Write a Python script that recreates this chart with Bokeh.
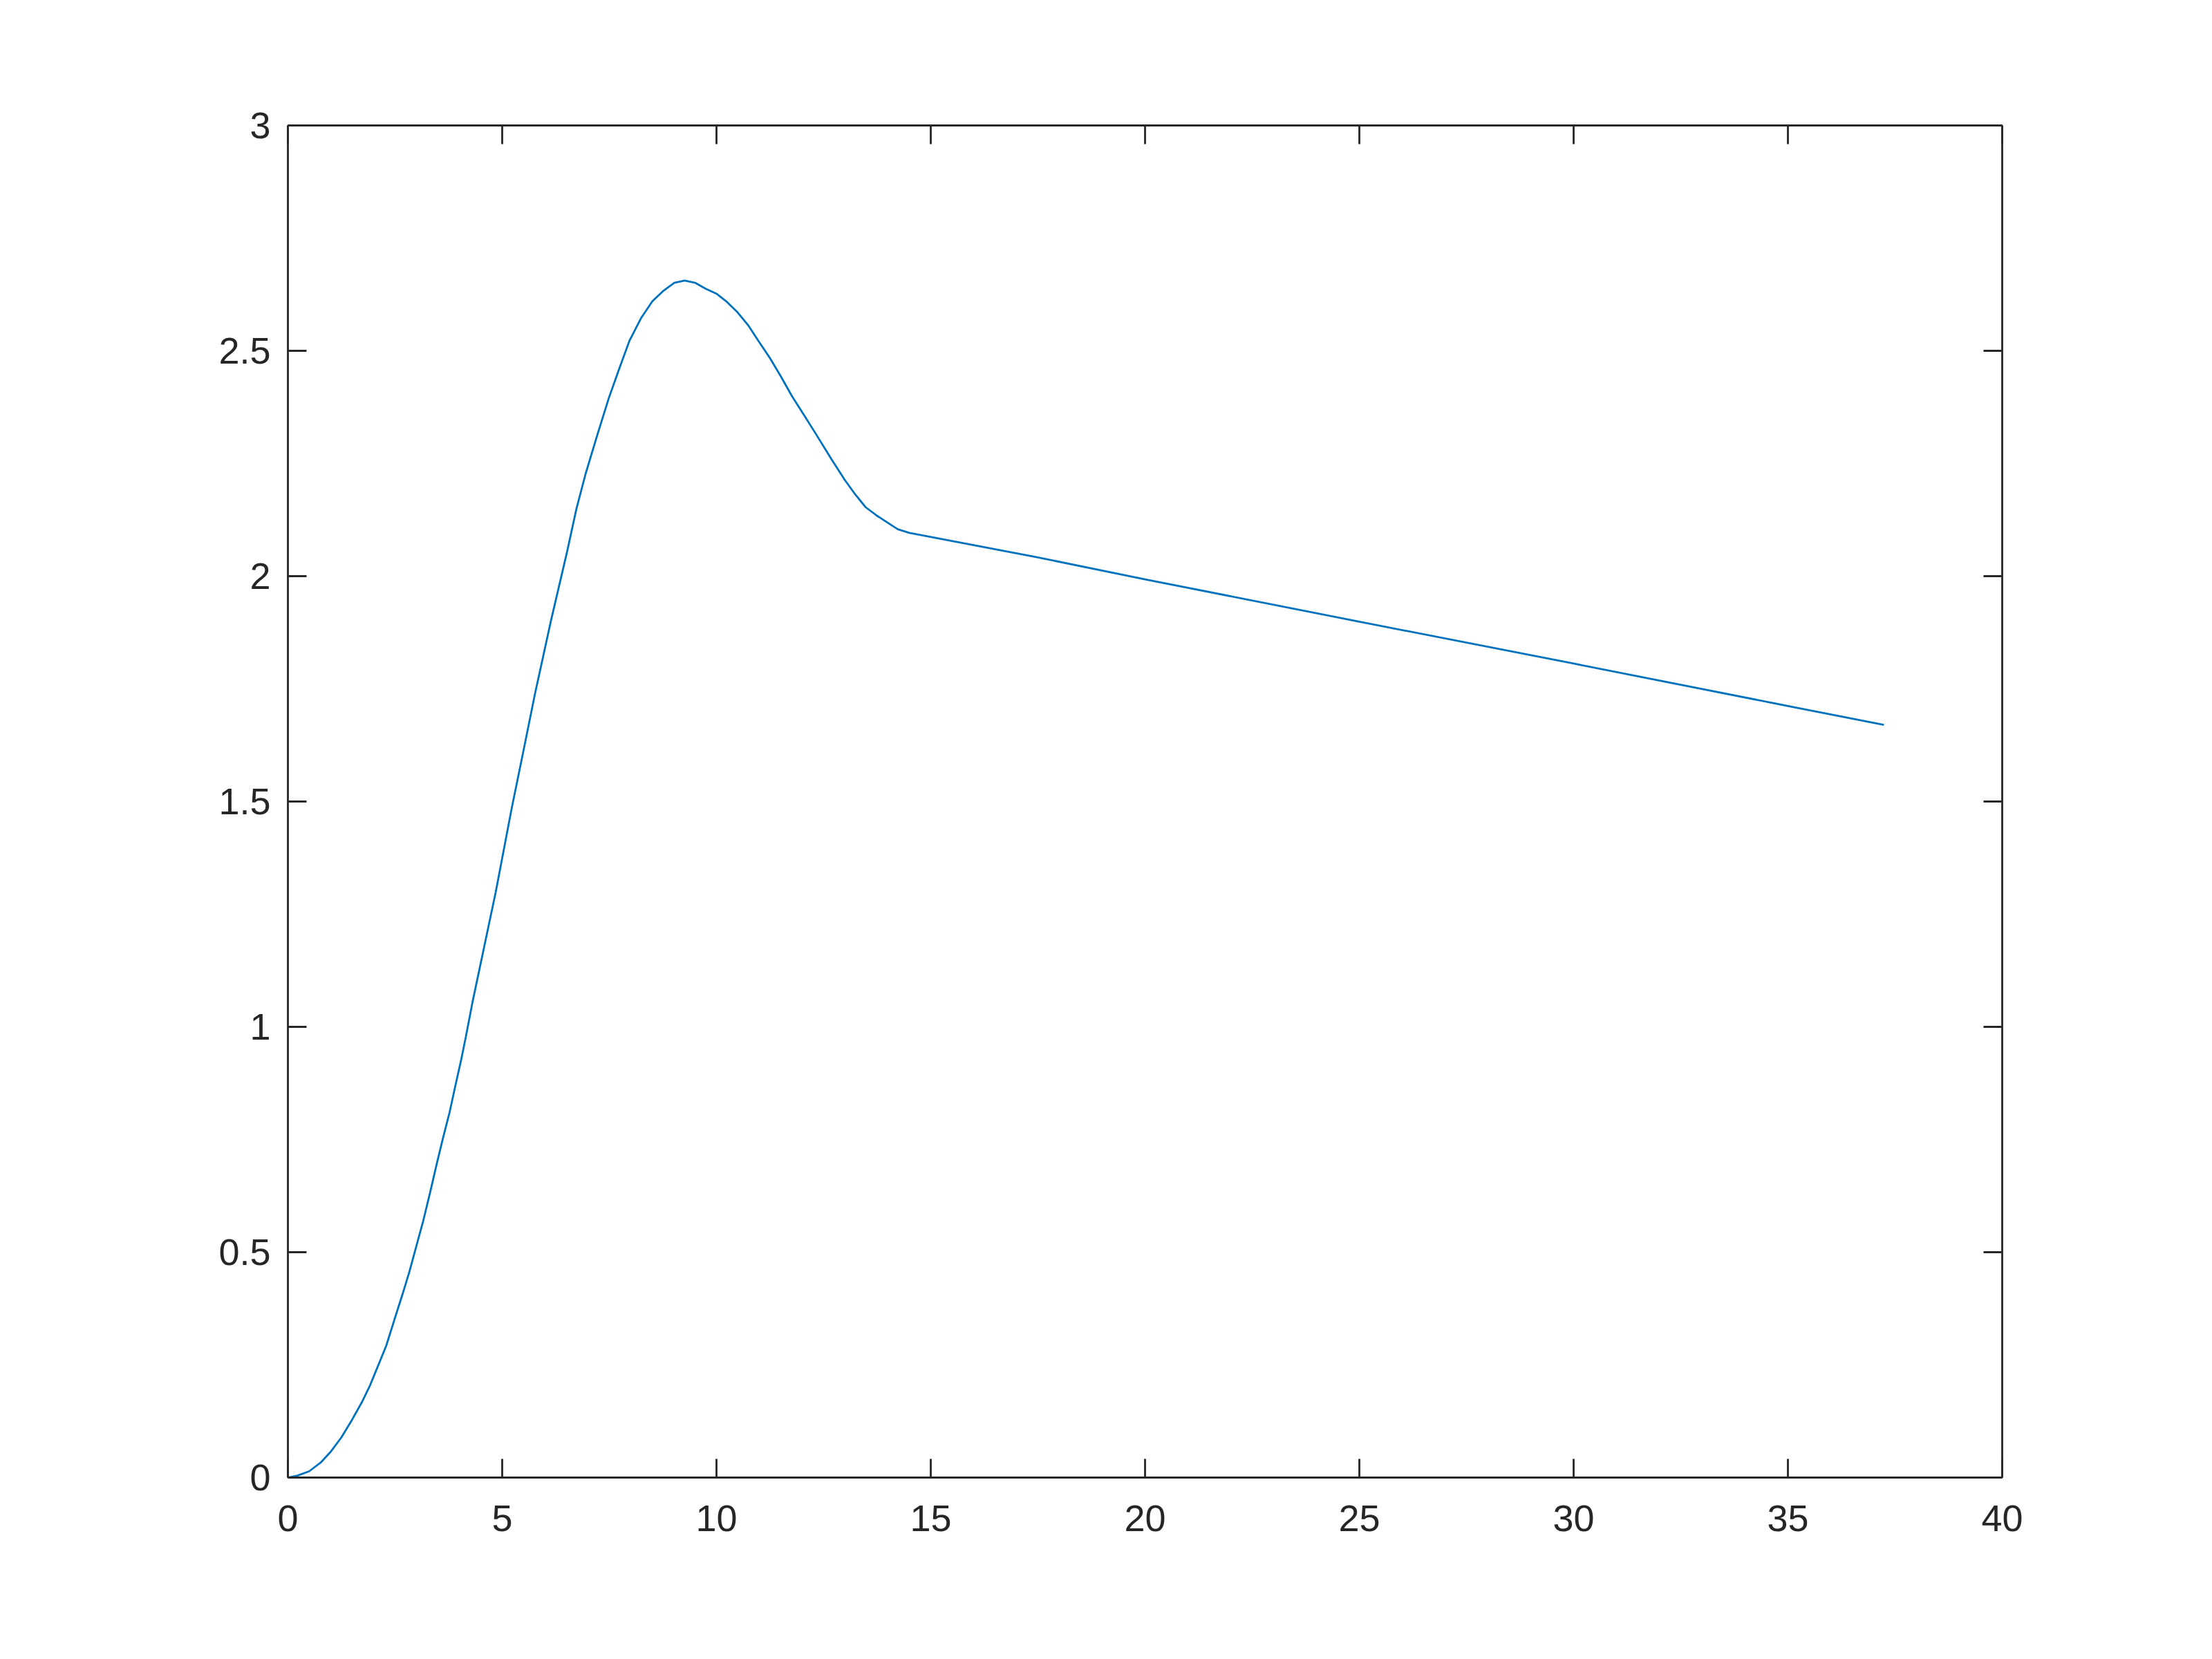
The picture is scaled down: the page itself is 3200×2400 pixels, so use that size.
from bokeh.plotting import figure
from bokeh.models import Range1d, LinearAxis, FixedTicker, CustomJSTickFormatter
from bokeh.embed import file_html
from bokeh.resources import INLINE

# ---- data ----
x_vals = [0.0, 0.226, 0.495, 0.763, 1.005, 1.247, 1.489, 1.731, 1.919, 2.108,
          2.296, 2.484, 2.672, 2.833, 2.995, 3.156, 3.317, 3.478, 3.613, 3.774,
          3.909, 4.043, 4.15, 4.312, 4.849, 5.226, 5.495, 5.763, 6.140, 6.516,
          6.731, 6.946, 7.215, 7.484, 7.726, 7.968, 8.237, 8.505,
          8.747, 9.016, 9.258, 9.5, 9.742, 10.011, 10.226, 10.495, 10.737, 10.979,
          11.247, 11.516, 11.758, 12.053, 12.323, 12.68, 12.99, 13.24, 13.48, 13.73,
          14.23, 14.5, 17.48, 20.0, 25.0, 30.0, 35.0, 37.24]
y_vals = [0.0, 0.0044, 0.0138, 0.033, 0.058, 0.089, 0.127, 0.168, 0.205, 0.249,
          0.293, 0.350, 0.406, 0.456, 0.513, 0.569, 0.632, 0.698, 0.751, 0.811,
          0.870, 0.927, 0.977, 1.057, 1.299, 1.487, 1.612, 1.738, 1.902, 2.055,
          2.149, 2.227, 2.312, 2.394, 2.459, 2.522, 2.572, 2.610,
          2.632, 2.651, 2.656, 2.651, 2.638, 2.626, 2.610, 2.585, 2.557, 2.522,
          2.484, 2.441, 2.400, 2.356, 2.315, 2.260, 2.214, 2.181, 2.153, 2.135,
          2.104, 2.096, 2.042, 1.993, 1.899, 1.806, 1.712, 1.670]

x_ticks = [0, 5, 10, 15, 20, 25, 30, 35, 40]
x_tick_labels = ["0", "5", "10", "15", "20", "25", "30", "35", "40"]
y_ticks = [0, 0.5, 1, 1.5, 2, 2.5, 3]
y_tick_labels = ["0", "0.5", "1", "1.5", "2", "2.5", "3"]

AX = "#262626"
FONT = "Liberation Sans"
FS = "54px"
TICK = 27
LW = 2.8

p = figure(width=3184, height=2384, output_backend="svg", toolbar_location=None,
           x_range=Range1d(0, 40), y_range=Range1d(0, 3),
           min_border_left=416, min_border_right=288,
           min_border_top=181, min_border_bottom=247,
           x_axis_location=None, y_axis_location=None)
p.grid.visible = False
p.outline_line_color = None
p.background_fill_color = "white"
p.border_fill_color = "white"

p.line(x_vals, y_vals, line_color="#0072BD", line_width=2.8)

def make_axis(ticks, labels, show_labels, standoff):
    ax = LinearAxis(ticker=FixedTicker(ticks=ticks))
    ax.axis_line_color = AX
    ax.axis_line_width = LW
    ax.major_tick_line_color = AX
    ax.major_tick_line_width = LW
    ax.major_tick_in = TICK
    ax.major_tick_out = 0
    ax.minor_tick_line_color = None
    if show_labels:
        ax.major_label_overrides = {t: l for t, l in zip(ticks, labels)}
        ax.major_label_text_font = FONT
        ax.major_label_text_font_size = FS
        ax.major_label_text_color = AX
        ax.major_label_standoff = standoff
    else:
        ax.formatter = CustomJSTickFormatter(code="return ''")
        ax.major_label_text_font_size = "0px"
        ax.major_label_standoff = 0
    return ax

p.add_layout(make_axis(x_ticks, x_tick_labels, True, 40), "below")
p.add_layout(make_axis(y_ticks, y_tick_labels, True, 25), "left")
p.add_layout(make_axis(x_ticks, x_tick_labels, False, 0), "above")
p.add_layout(make_axis(y_ticks, y_tick_labels, False, 0), "right")

open("out.html", "w").write(file_html(p, INLINE))
